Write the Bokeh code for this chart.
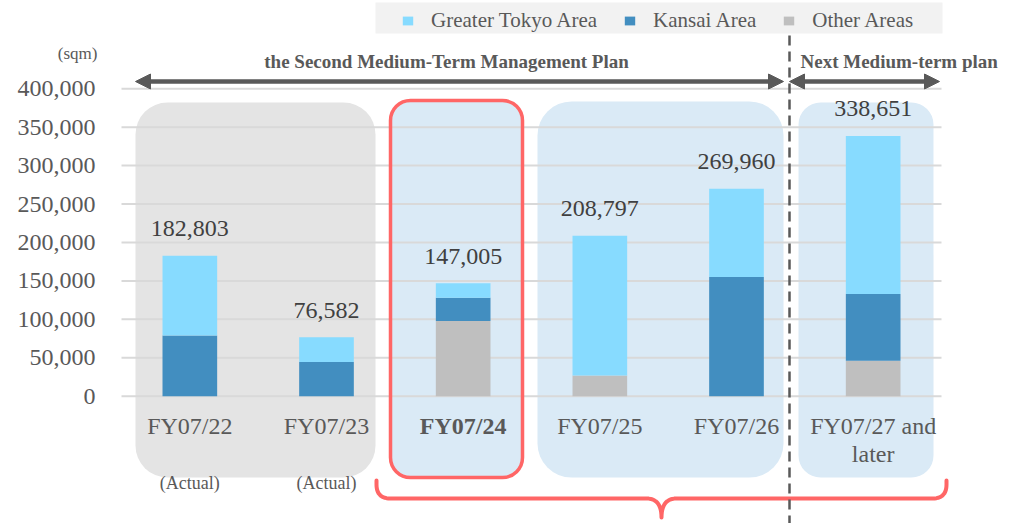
import numpy as np
from bokeh.plotting import figure
from bokeh.models import (ColumnDataSource, Range1d, FixedTicker, NumeralTickFormatter,
                          Legend, LegendItem, Arrow, NormalHead)
from bokeh.core.properties import value, field
from bokeh.embed import file_html
from bokeh.resources import INLINE

# ---------------- data ----------------
categories = ["FY07/22", "FY07/23", "FY07/24", "FY07/25", "FY07/26", "FY07/27 and later"]
category_labels = ["FY07/22", "FY07/23", "FY07/24", "FY07/25", "FY07/26", "FY07/27 and\nlater"]
other_areas = [0, 0, 98000, 27000, 0, 46000]
kansai_area = [79000, 44400, 30000, 0, 155000, 87000]
greater_tokyo = [103803, 32182, 19005, 181797, 114960, 205651]
totals = [182803, 76582, 147005, 208797, 269960, 338651]
actual_notes = ["(Actual)", "(Actual)", "", "", "", ""]
highlight = "FY07/24"
y_ticks = [0, 50000, 100000, 150000, 200000, 250000, 300000, 350000, 400000]
series_names = ["Greater Tokyo Area", "Kansai Area", "Other Areas"]
unit_label = "(sqm)"
plan_label = "the Second Medium-Term Management Plan"
next_plan_label = "Next Medium-term plan"

# ---------------- styles ----------------
C_TOKYO = "#87DBFF"
C_KANSAI = "#428EC0"
C_OTHER = "#BFBFBF"
C_GRAYBOX = "#E4E4E4"
C_BLUEBOX = "#DAEAF6"
C_RED = "#FF6666"
C_DARK = "#595959"
C_GRID = "#D9D9D9"
FONT = value("Liberation Serif")
BIAS = 0.3  # alphabetic baseline correction (fraction of font size)

# ---------------- layout helpers (page px -> data) ----------------
W, H = 1021, 523
FRAME_LEFT = 10          # frame starts near the left edge; tick labels drawn inward
GRID_LEFT = 121
GRID_RIGHT = 941
TICK_LABEL_RIGHT = 95
ZERO_Y = 395.7
PX_PER_TICK = 38.43
TICK_STEP = 50000
CAT_W = (GRID_RIGHT - GRID_LEFT) / len(categories)


def px2x(px):
    return -0.5 + (px - GRID_LEFT) / CAT_W


def px2y(py):
    return (ZERO_Y - py) * TICK_STEP / PX_PER_TICK


xs = list(range(len(categories)))

p = figure(width=W, height=H,
           x_range=Range1d(px2x(FRAME_LEFT), px2x(W)),
           y_range=Range1d(px2y(H), px2y(0)),
           output_backend="svg", toolbar_location=None, x_axis_location=None,
           min_border_left=FRAME_LEFT, min_border_right=0,
           min_border_top=0, min_border_bottom=0, outline_line_color=None)
p.grid.visible = False

# y axis (labels drawn inward so that the unit label can sit above them)
ax = p.yaxis[0]
ax.ticker = FixedTicker(ticks=y_ticks)
ax.formatter = NumeralTickFormatter(format="0,0")
ax.axis_line_color = None
ax.major_tick_line_color = None
ax.minor_tick_line_color = None
ax.major_tick_out = 0
ax.major_tick_in = 0
ax.major_label_standoff = FRAME_LEFT - TICK_LABEL_RIGHT
ax.major_label_text_font = "Liberation Serif"
ax.major_label_text_font_size = "24px"
ax.major_label_text_color = C_DARK

# legend background
p.quad(left=px2x(375), right=px2x(942), top=px2y(2), bottom=px2y(33),
       fill_color="#F2F2F2", line_color=None)

# rounded background boxes
p.quad(left=px2x(135), right=px2x(375), top=px2y(102), bottom=px2y(477),
       fill_color=C_GRAYBOX, line_color=None, border_radius=32)
p.quad(left=px2x(537), right=px2x(783), top=px2y(101), bottom=px2y(477),
       fill_color=C_BLUEBOX, line_color=None, border_radius=34)
p.quad(left=px2x(798), right=px2x(933), top=px2y(102), bottom=px2y(477),
       fill_color=C_BLUEBOX, line_color=None, border_radius=22)
p.quad(left=px2x(390), right=px2x(522), top=px2y(100), bottom=px2y(477),
       fill_color=C_BLUEBOX, line_color=None, border_radius=20)

# gridlines
p.segment(x0=[px2x(GRID_LEFT)] * len(y_ticks), x1=[px2x(GRID_RIGHT)] * len(y_ticks),
          y0=y_ticks, y1=y_ticks, line_color=C_GRID, line_width=2)

# red highlight border
p.quad(left=px2x(390), right=px2x(522), top=px2y(100), bottom=px2y(477),
       fill_alpha=0, line_color=C_RED, line_width=3.5, border_radius=20)

# stacked bars
src = ColumnDataSource(dict(x=xs, other=other_areas, kansai=kansai_area, tokyo=greater_tokyo))
rs = p.vbar_stack(["other", "kansai", "tokyo"], x="x", width=0.4, source=src,
                  color=[C_OTHER, C_KANSAI, C_TOKYO], line_color=None)

# total labels
p.text(x=xs, y=totals, text=[f"{v:,}" for v in totals], y_offset=-20 - BIAS * 24,
       text_align="center", text_baseline="alphabetic", text_font=FONT,
       text_font_size="24px", text_color="#404040")

# category labels
CAT_BASE = 36.6 - BIAS * 24
CAT_LINE = 28
cat_src = ColumnDataSource(dict(
    x=xs, y=[0] * len(xs), label=category_labels,
    style=["bold" if c == highlight else "normal" for c in categories],
    yoff=[CAT_BASE + lab.count("\n") * CAT_LINE / 2 for lab in category_labels]))
p.text(x="x", y="y", text="label", source=cat_src, y_offset=field("yoff"),
       text_align="center", text_baseline="alphabetic", text_font=FONT,
       text_font_size="24px", text_color=C_DARK, text_font_style=field("style"),
       text_line_height=1.07)

# (Actual) notes
p.text(x=xs, y=[0] * len(xs), text=actual_notes, y_offset=92 - BIAS * 18,
       text_align="center", text_baseline="alphabetic", text_font=FONT,
       text_font_size="18px", text_color=C_DARK)

# unit label
p.text(x=[px2x(97)], y=[px2y(53)], text=[unit_label], text_align="right",
       text_baseline="middle", text_font=FONT, text_font_size="17px", text_color=C_DARK)

# plan labels and arrows
p.text(x=[px2x(446)], y=[px2y(67 - BIAS * 19)], text=[plan_label], text_align="center",
       text_baseline="alphabetic", text_font=FONT, text_font_size="19px",
       text_font_style="bold", text_color=C_DARK)
p.text(x=[px2x(800)], y=[px2y(67 - BIAS * 19)], text=[next_plan_label], text_align="left",
       text_baseline="alphabetic", text_font=FONT, text_font_size="19px",
       text_font_style="bold", text_color=C_DARK)


def head():
    return NormalHead(size=15, fill_color=C_DARK, line_color=C_DARK)


p.add_layout(Arrow(start=head(), end=head(), x_start=px2x(135), y_start=px2y(81),
                   x_end=px2x(783), y_end=px2y(81), line_color=C_DARK, line_width=4.5))
p.add_layout(Arrow(start=head(), end=head(), x_start=px2x(789), y_start=px2y(81),
                   x_end=px2x(939), y_end=px2y(81), line_color=C_DARK, line_width=4.5))


# brace
def qbez(a, c, b, n=14):
    t = np.linspace(0, 1, n)[:, None]
    a, c, b = np.array(a), np.array(c), np.array(b)
    return (1 - t) ** 2 * a + 2 * (1 - t) * t * c + t ** 2 * b


BL, BR, BT, BH, TIPX, TIPY, RR, TW = 376, 946, 480, 498, 661, 517, 14, 15
pts = np.vstack([
    [[BL, BT]],
    qbez((BL, BH - RR), (BL, BH), (BL + RR, BH)),
    qbez((TIPX - TW, BH), (TIPX, BH), (TIPX, TIPY)),
    qbez((TIPX, TIPY), (TIPX, BH), (TIPX + TW, BH)),
    qbez((BR - RR, BH), (BR, BH), (BR, BH - RR)),
    [[BR, BT]],
])
p.line(x=[px2x(v) for v in pts[:, 0]], y=[px2y(v) for v in pts[:, 1]],
       line_color=C_RED, line_width=4, line_join="round", line_cap="round")

# dashed separator
p.segment(x0=[px2x(789)], y0=[px2y(35)], x1=[px2x(789)], y1=[px2y(H)],
          line_color=C_DARK, line_width=2.5, line_dash="10 6")

# legend
legend = Legend(items=[LegendItem(label=series_names[0], renderers=[rs[2]]),
                       LegendItem(label=series_names[1], renderers=[rs[1]]),
                       LegendItem(label=series_names[2], renderers=[rs[0]])],
                orientation="horizontal", location=(401 - FRAME_LEFT, H - 33),
                glyph_width=13, glyph_height=11, label_standoff=17, spacing=26,
                padding=0, margin=0, background_fill_alpha=0, border_line_color=None,
                label_text_font="Liberation Serif", label_text_font_size="21px",
                label_text_color=C_DARK)
p.add_layout(legend)

open("out.html", "w").write(file_html(p, INLINE))
